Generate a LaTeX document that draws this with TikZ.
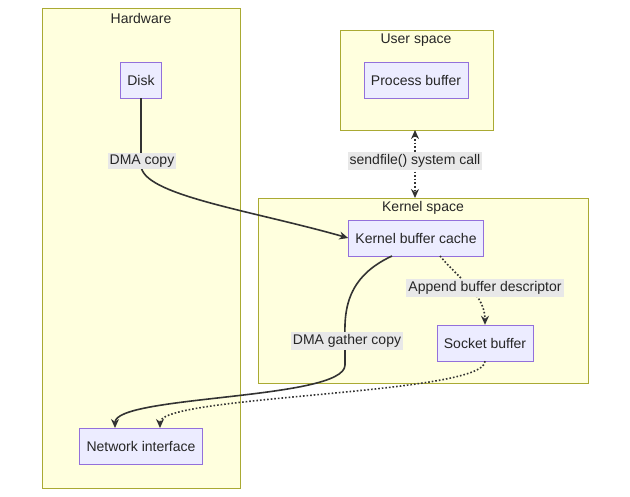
\documentclass[tikz,border=0pt]{standalone}
\usepackage{fontspec}
\setmainfont{Liberation Sans}
\usetikzlibrary{arrows.meta}
\definecolor{clfill}{HTML}{FFFFDE}
\definecolor{clline}{HTML}{AAAA33}
\definecolor{ndfill}{HTML}{ECECFF}
\definecolor{ndline}{HTML}{9370DB}
\definecolor{lbfill}{HTML}{E8E8E8}
\tikzstyle{cl}=[draw=clline,fill=clfill]
\tikzstyle{cltitle}=[font=\fontsize{14}{16}\selectfont,text=black!85]
\tikzstyle{nd}=[draw=ndline,fill=ndfill,minimum height=36pt,inner xsep=7pt,font=\fontsize{14}{16}\selectfont,text=black!85]
\tikzstyle{lb}=[fill=lbfill,inner sep=2pt,font=\fontsize{14}{16}\selectfont,text=black!85]
\tikzstyle{ln}=[draw=black!80,line width=1.6pt,-{Stealth[length=9pt,width=8pt]}]
\tikzstyle{dt}=[ln,dotted]

\begin{document}
\begin{tikzpicture}[x=1pt,y=-1pt]
	\useasboundingbox (0,0) rectangle (630,496);
	% clusters
	\draw[cl] (42,8) rectangle (240,488);
	\draw[cl] (340,30) rectangle (493,130);
	\draw[cl] (258,198) rectangle (588,383);
	\node[cltitle] at (141,18) {Hardware};
	\node[cltitle] at (416,40) {User space};
	\node[cltitle] at (423,208) {Kernel space};
	% nodes
	\node[nd] (disk) at (141,80) {Disk};
	\node[nd] (proc) at (416,80) {Process buffer};
	\node[nd] (kbc) at (416,238) {Kernel buffer cache};
	\node[nd] (sock) at (485,343) {Socket buffer};
	\node[nd] (nic) at (141,446) {Network interface};
	\coordinate (us) at (415,130);
	\coordinate (ks) at (415,198);
	% edges
	\draw[ln] (disk.south) -- (141,165) .. controls (141,195) and (250,210) .. (kbc.west);
	\draw[dt,{Stealth[length=9pt,width=8pt]}-{Stealth[length=9pt,width=8pt]}] (us) -- (ks);
	\draw[dt] (440,256) .. controls (460,280) and (485,295) .. (sock.north);
	\draw[ln] (392,256) .. controls (340,280) and (345,320) .. (345,345) -- (345,365)
		.. controls (345,400) and (115,395) .. (115,428);
	\draw[dt] (sock.south) .. controls (485,395) and (160,395) .. (160,428);
	% labels
	\node[lb] at (142,161) {DMA copy};
	\node[lb] at (415,161) {sendfile() system call};
	\node[lb] at (485,288) {Append buffer descriptor};
	\node[lb] at (347,341) {DMA gather copy};
\end{tikzpicture}
\end{document}
